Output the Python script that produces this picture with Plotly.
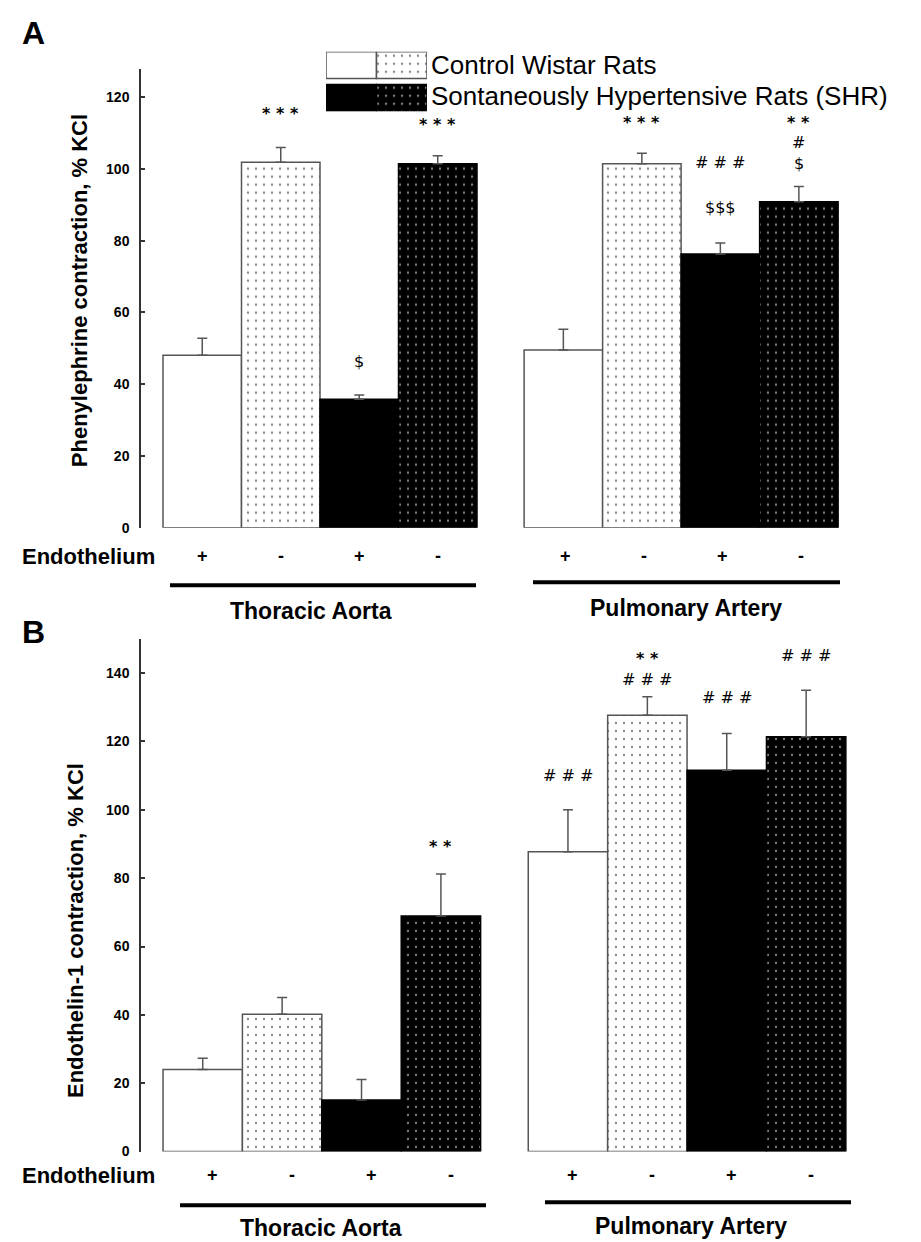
import plotly.graph_objects as go

W, H = 921, 1242

# ---------------- data ----------------
groups = ["Thoracic Aorta", "Pulmonary Artery"]
endothelium = ["+", "-", "+", "-"]
legend_labels = ["Control Wistar Rats", "Sontaneously Hypertensive Rats (SHR)"]
cond_names = ["Control, endothelium +", "Control, endothelium -",
              "SHR, endothelium +", "SHR, endothelium -"]

# Panel A: Phenylephrine contraction (% KCl), [Thoracic, Pulmonary]
pe_ctrl_pos = [48.1, 49.5]
pe_ctrl_neg = [101.9, 101.5]
pe_shr_pos = [35.8, 76.3]
pe_shr_neg = [101.5, 90.9]
pe_ctrl_pos_sem = [4.7, 5.8]
pe_ctrl_neg_sem = [4.1, 2.9]
pe_shr_pos_sem = [1.2, 3.1]
pe_shr_neg_sem = [2.2, 4.2]

# Panel B: Endothelin-1 contraction (% KCl), [Thoracic, Pulmonary]
et_ctrl_pos = [24.0, 87.7]
et_ctrl_neg = [40.2, 127.7]
et_shr_pos = [15.1, 111.6]
et_shr_neg = [68.9, 121.4]
et_ctrl_pos_sem = [3.3, 12.3]
et_ctrl_neg_sem = [4.9, 5.4]
et_shr_pos_sem = [6.0, 10.7]
et_shr_neg_sem = [12.3, 13.6]

# significance labels: group index, condition index, text, label height (data units)
pe_sig_group = [0, 0, 0, 1, 1, 1, 1, 1, 1]
pe_sig_cond = [1, 2, 3, 1, 2, 2, 3, 3, 3]
pe_sig_text = ["<b>* * *</b>", "$", "<b>* * *</b>", "<b>* * *</b>", "# # #", "$$$",
               "<b>* *</b>", "#", "$"]
pe_sig_y = [115.5, 46.3, 112.5, 113.1, 101.7, 89.2, 113.1, 107.3, 101.5]

et_sig_group = [0, 1, 1, 1, 1]
et_sig_cond = [3, 0, 1, 2, 3]
et_sig_text = ["<b>* *</b>", "# # #", "<b>* *</b><br># # #", "# # #", "# # #"]
et_sig_y = [89.3, 110.0, 141.3, 132.8, 145.1]

# ---------------- helpers ----------------
GROUP_STEP = 4.6


def px(x):
    return x / W


def py(y):
    return 1 - y / H


def xpos(g, c):
    return g * GROUP_STEP + c


DOT = dict(shape=".", size=8, solidity=0.07)
styles = [
    dict(color="white", line="#555555", pattern=None),
    dict(color="white", line="#555555",
         pattern=dict(fgcolor="#111111", bgcolor="white", **DOT)),
    dict(color="black", line="black", pattern=None),
    dict(color="black", line="black",
         pattern=dict(fgcolor="white", bgcolor="black", **DOT)),
]

fig = go.Figure()

panels = [
    ("x", "y", [pe_ctrl_pos, pe_ctrl_neg, pe_shr_pos, pe_shr_neg],
     [pe_ctrl_pos_sem, pe_ctrl_neg_sem, pe_shr_pos_sem, pe_shr_neg_sem]),
    ("x2", "y2", [et_ctrl_pos, et_ctrl_neg, et_shr_pos, et_shr_neg],
     [et_ctrl_pos_sem, et_ctrl_neg_sem, et_shr_pos_sem, et_shr_neg_sem]),
]

for xa, ya, means, sems in panels:
    for c in range(4):
        st = styles[c]
        marker = dict(color=st["color"], line=dict(color=st["line"], width=1.5))
        if st["pattern"]:
            marker["pattern"] = st["pattern"]
        fig.add_trace(go.Bar(
            x=[xpos(g, c) for g in range(len(groups))],
            y=means[c],
            width=[1] * len(groups),
            marker=marker,
            name=cond_names[c],
            showlegend=False,
            error_y=dict(type="data", symmetric=False, array=sems[c],
                         arrayminus=[0] * len(groups), color="#555555",
                         thickness=1.5, width=5),
            xaxis=xa, yaxis=ya,
        ))

# legend swatches (small bar subplot)
leg_rows = [(1.1, 0), (0.0, 2)]
for base, c0 in leg_rows:
    for k in range(2):
        st = styles[c0 + k]
        mk = dict(color=st["color"], line=dict(color=st["line"], width=1.5))
        if st["pattern"]:
            mk["pattern"] = st["pattern"]
        fig.add_trace(go.Bar(x=[k], y=[0.9], base=[base], width=[1], marker=mk,
                             showlegend=False, xaxis="x3", yaxis="y3", hoverinfo="skip"))

# ---------------- layout ----------------
font_fam = "Liberation Sans, Arial, sans-serif"
sym_fam = "DejaVu Sans, sans-serif"

hidden_x = dict(showline=False, showticklabels=False, showgrid=False, zeroline=False, ticks="")
yax_common = dict(showgrid=False, zeroline=False, showline=True, linecolor="#333333",
                  linewidth=1.5, ticks="inside", ticklen=4, tickcolor="#333333",
                  tickwidth=1.5, ticklabelstandoff=7,
                  tickfont=dict(family=font_fam, size=14, color="black", weight="bold"))

fig.update_layout(
    width=W, height=H,
    margin=dict(l=0, r=0, t=0, b=0),
    paper_bgcolor="white", plot_bgcolor="rgba(0,0,0,0)",
    barmode="overlay",
    showlegend=False,
    xaxis=dict(domain=[px(132), px(840)], range=[-0.793, 8.226], anchor="y", **hidden_x),
    yaxis=dict(domain=[py(523), py(61)], range=[0, 128], anchor="free", position=px(132),
               tickvals=[0, 20, 40, 60, 80, 100, 120], **yax_common),
    xaxis2=dict(domain=[px(132), px(845)], range=[-0.79, 8.19], anchor="y2", **hidden_x),
    yaxis2=dict(domain=[py(1151), py(635)], range=[0, 150], anchor="free", position=px(132),
                tickvals=[0, 20, 40, 60, 80, 100, 120, 140], **yax_common),
    xaxis3=dict(domain=[px(318), px(419)], range=[-0.5, 1.5], anchor="y3", **hidden_x),
    yaxis3=dict(domain=[py(104), py(44)], range=[0, 2], anchor="x3",
                showline=False, showticklabels=False, showgrid=False, zeroline=False),
)

ann = []
# panel labels
for lab, yy in [("A", 25), ("B", 628)]:
    ann.append(dict(text=lab, x=px(12), y=py(yy), xref="paper", yref="paper", xanchor="left",
                    yanchor="middle", showarrow=False,
                    font=dict(family=font_fam, size=32, color="black", weight="bold")))
# legend text
for txt, yy in zip(legend_labels, [57, 89]):
    ann.append(dict(text=txt, x=px(422), y=py(yy), xref="paper", yref="paper",
                    xanchor="left", yanchor="middle", showarrow=False, borderpad=0,
                    font=dict(family=font_fam, size=26, color="black")))
# y titles
ann.append(dict(text="Phenylephrine contraction, % KCl", x=px(71), y=py(285), xref="paper",
                yref="paper", textangle=-90, showarrow=False, xanchor="center", yanchor="middle",
                font=dict(family=font_fam, size=22, color="black", weight="bold")))
ann.append(dict(text="Endothelin-1 contraction, % KCl", x=px(67), y=py(929), xref="paper",
                yref="paper", textangle=-90, showarrow=False, xanchor="center", yanchor="middle",
                font=dict(family=font_fam, size=22, color="black", weight="bold")))

# significance labels
for xa, ya, gs, cs, ts, ys in [("x", "y", pe_sig_group, pe_sig_cond, pe_sig_text, pe_sig_y),
                               ("x2", "y2", et_sig_group, et_sig_cond, et_sig_text, et_sig_y)]:
    for g, c, t, yv in zip(gs, cs, ts, ys):
        ann.append(dict(text=t, x=xpos(g, c), y=yv, xref=xa, yref=ya, showarrow=False,
                        xanchor="center", yanchor="middle", borderpad=0,
                        font=dict(family=sym_fam, size=16, color="black")))

# Endothelium rows and group labels
rows = [
    dict(xa="x", endo_y=552, shifts=[0, 2], line_y=[581, 578], line_x=[(162, 468), (525, 832)],
         lab_y=[607, 604], lab_x=[303, 678]),
    dict(xa="x2", endo_y=1175, shifts=[10, 5], line_y=[1205, 1202],
         line_x=[(172, 478), (537, 843)], lab_y=[1228, 1226], lab_x=[313, 683]),
]
shapes = []
for r in rows:
    ann.append(dict(text="Endothelium", x=px(12), y=py(r["endo_y"]), xref="paper", yref="paper",
                    xanchor="left", yanchor="middle", showarrow=False,
                    font=dict(family=font_fam, size=22, color="black", weight="bold")))
    for g in range(len(groups)):
        for c in range(4):
            ann.append(dict(text=endothelium[c], x=xpos(g, c), y=py(r["endo_y"]),
                            xref=r["xa"], yref="paper", xshift=r["shifts"][g],
                            xanchor="center", yanchor="middle", showarrow=False,
                            font=dict(family=font_fam, size=18, color="black", weight="bold")))
        x0, x1 = r["line_x"][g]
        shapes.append(dict(type="line", xref="paper", yref="paper", x0=px(x0), x1=px(x1),
                           y0=py(r["line_y"][g]), y1=py(r["line_y"][g]),
                           line=dict(color="black", width=4)))
        ann.append(dict(text=groups[g], x=px(r["lab_x"][g]), y=py(r["lab_y"][g]), xref="paper",
                        yref="paper", xanchor="center", yanchor="middle", showarrow=False,
                        font=dict(family=font_fam, size=23, color="black", weight="bold")))

fig.update_layout(annotations=ann, shapes=shapes)
fig.write_html("out.html")
